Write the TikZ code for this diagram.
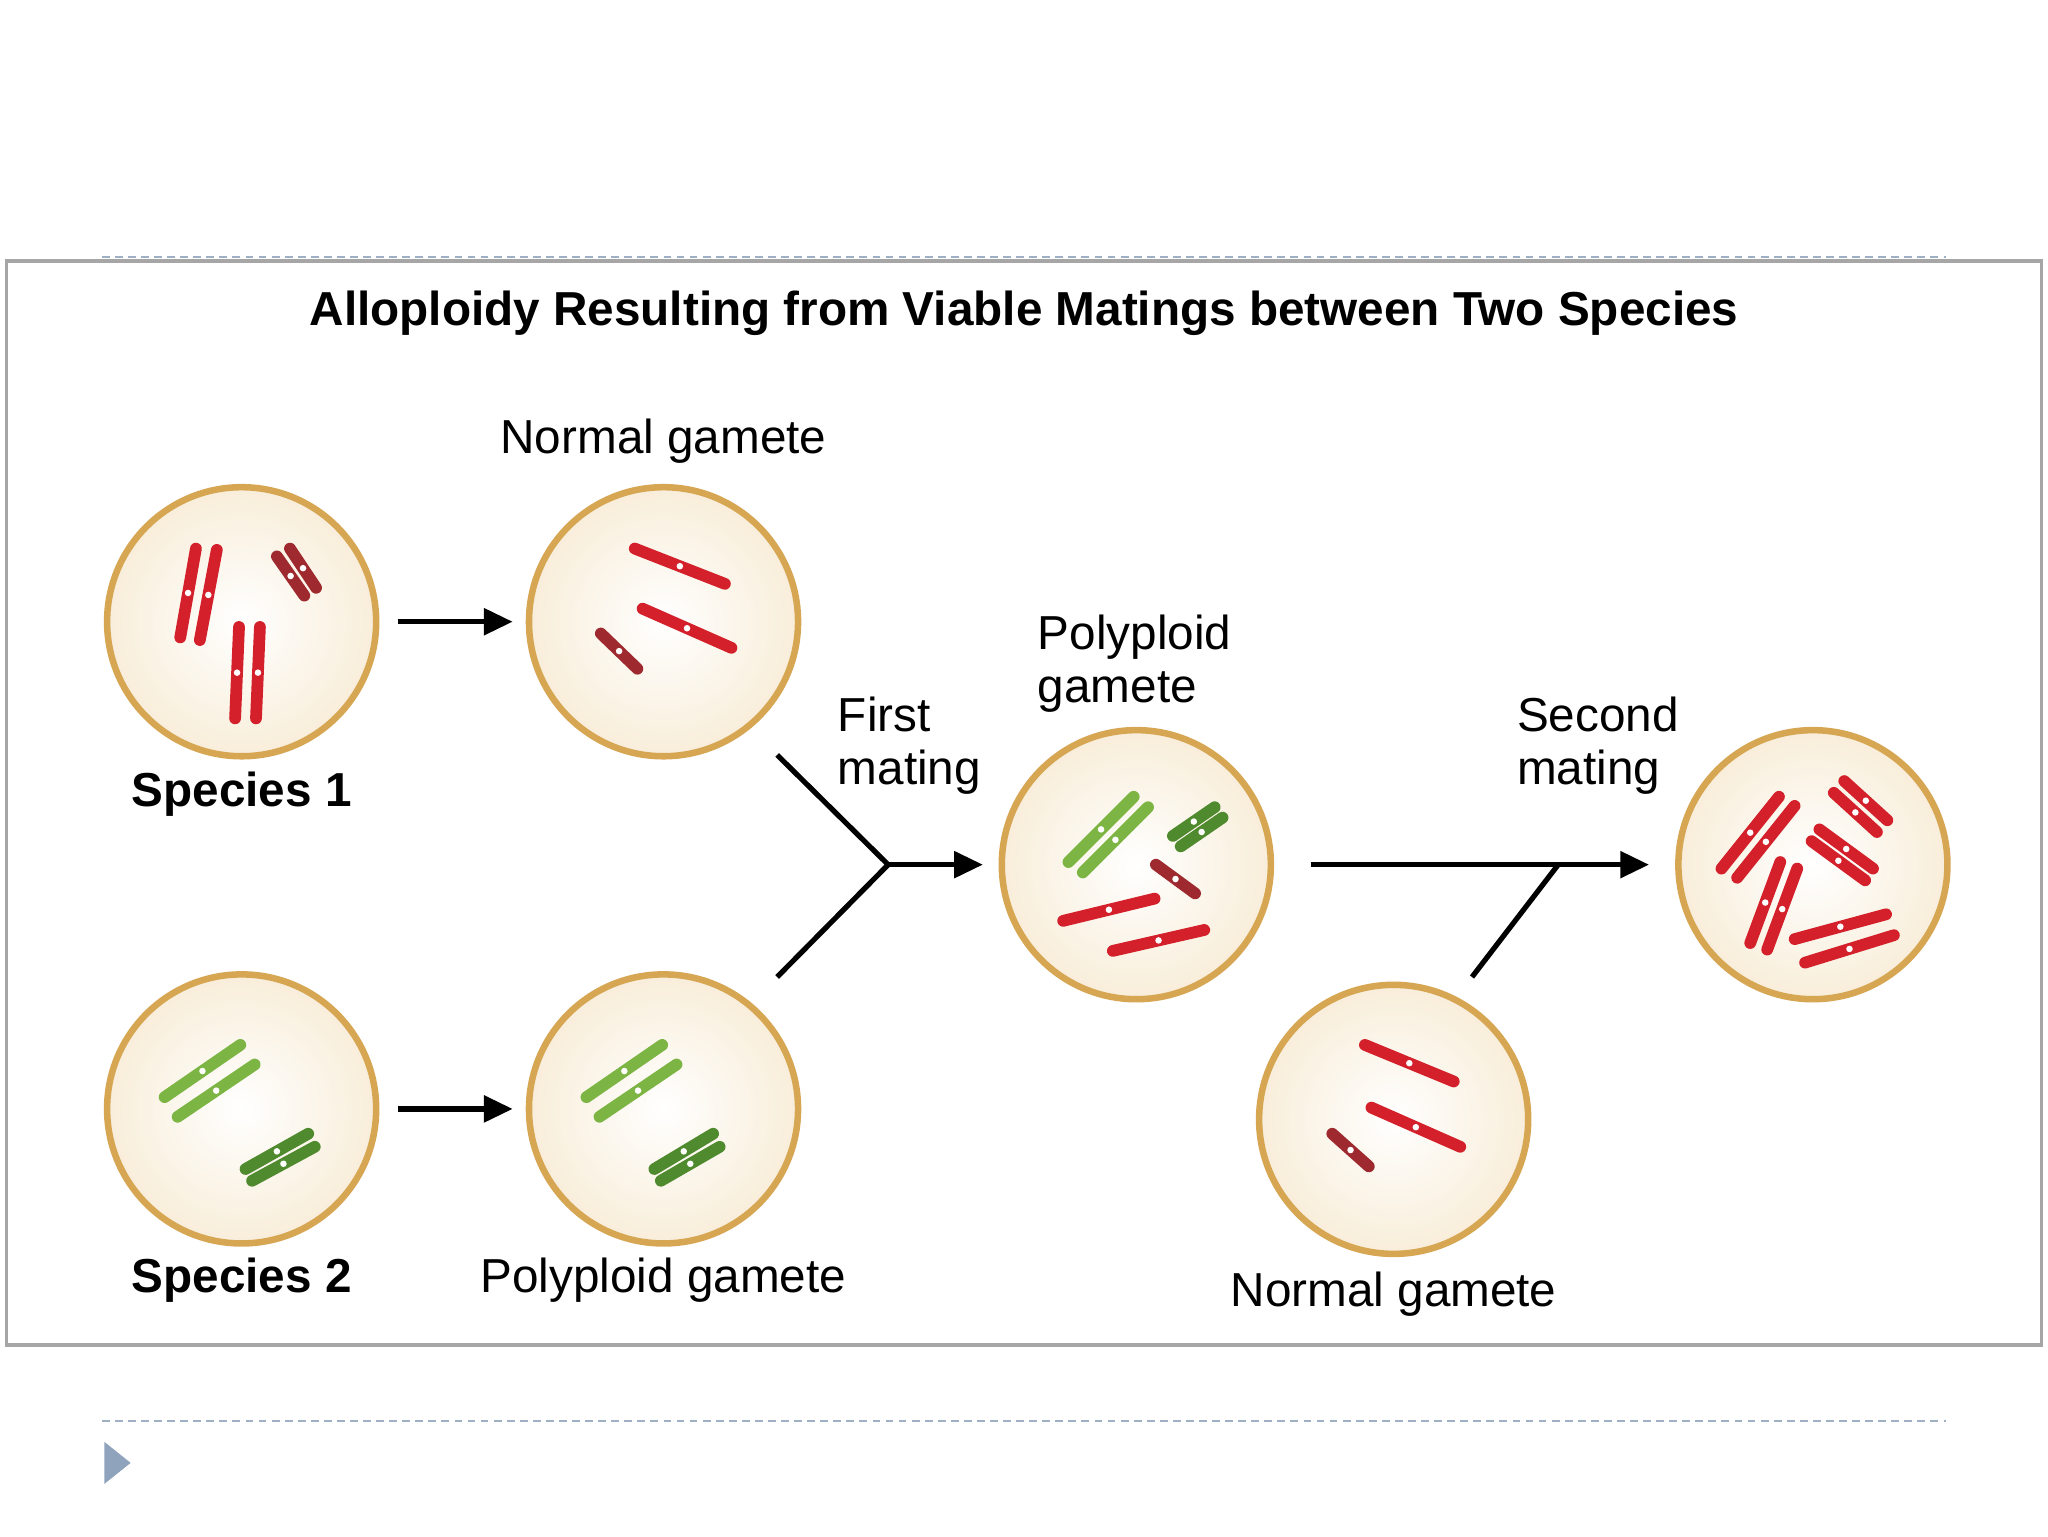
\documentclass[tikz,border=0pt]{standalone}
\usepackage{fontspec}
\setmainfont{Liberation Sans}
\usetikzlibrary{arrows.meta}
\definecolor{cred}{HTML}{D3202B}
\definecolor{cdred}{HTML}{9E2A2F}
\definecolor{cgreen}{HTML}{7DB544}
\definecolor{cdgreen}{HTML}{4F8A2E}
\definecolor{ctan}{HTML}{D6A653}
\definecolor{ccream}{HTML}{FBF1DC}
\definecolor{cdash}{HTML}{9FB0C4}
\definecolor{ctri}{HTML}{8FA3BD}
\tikzset{
  cell/.style={circle,draw=ctan,line width=5pt,inner color=white,outer color=ccream!80!ctan!60,minimum size=206pt},
  lbl/.style={font=\fontsize{36.5}{41}\selectfont,align=left},
  blbl/.style={font=\fontsize{36.5}{41}\selectfont\bfseries},
  arr/.style={line width=4pt,-{Triangle[length=22pt,width=20pt]}},
  ln/.style={line width=4pt},
  chr/.style={line width=9pt,line cap=round},
}
\newcommand{\chrom}[5]{\draw[chr,#5] (#1,#2) -- (#3,#4);
  \fill[white] ({(#1+#3)/2},{(#2+#4)/2}) circle (2.5pt);}
\begin{document}
\begin{tikzpicture}[x=1pt,y=-1pt]
\useasboundingbox (0,0) rectangle (1568,1176);
\fill[white] (0,0) rectangle (1568,1176);
\draw[cdash,line width=1.5pt,dash pattern=on 6pt off 4pt] (78,197) -- (1490,197);
\draw[cdash,line width=1.5pt,dash pattern=on 6pt off 4pt] (78,1088) -- (1490,1088);
\draw[gray!70,line width=3pt] (5,200) rectangle (1563,1030);
\fill[ctri] (80,1104) -- (100,1120) -- (80,1136) -- cycle;
\node[font=\fontsize{36.5}{42}\selectfont\bfseries] (title) at (784,240) {Alloploidy Resulting from Viable Matings between Two Species};
% cells
\node[cell] (s1) at (185,476) {};
\node[cell] (g1) at (508,476) {};
\node[cell] (s2) at (185,849) {};
\node[cell] (g2) at (508,849) {};
\node[cell] (pg) at (870,662) {};
\node[cell] (ng) at (1067,857) {};
\node[cell] (fz) at (1388,662) {};
% labels
\node[lbl] (l1) at (508,338) {Normal gamete};
\node[blbl] (l2) at (185,608) {Species 1};
\node[blbl] (l3) at (185,980) {Species 2};
\node[lbl] (l4) at (508,980) {Polyploid gamete};
\node[lbl,anchor=west] (l5) at (638,571) {First\\mating};
\node[lbl,anchor=west] (l6) at (791,508) {Polyploid\\gamete};
\node[lbl,anchor=west] (l7) at (1158,571) {Second\\mating};
\node[lbl] (l8) at (1067,991) {Normal gamete};
% connectors
\coordinate (j1) at (680,662);
\coordinate (a1) at (595,578);
\coordinate (a2) at (595,748);
\coordinate (j2) at (1193,662);
\coordinate (b1) at (1127,748);
\draw[arr] (s1.east)++(14,0) -- ([xshift=-10pt]g1.west);
\draw[arr] (s2.east)++(14,0) -- ([xshift=-10pt]g2.west);
\draw[ln] (a1) -- (j1) -- (a2);
\draw[arr] (j1) -- ([xshift=-12pt]pg.west);
\draw[arr] ([xshift=28pt]pg.east) -- ([xshift=-20pt]fz.west);
\draw[ln] (b1) -- (j2);
% species 1
\chrom{150}{420}{138}{488}{cred}\chrom{166}{421}{153}{490}{cred}
\chrom{212}{426}{233}{456}{cdred}\chrom{222}{420}{242}{450}{cdred}
\chrom{183}{480}{180}{550}{cred}\chrom{199}{480}{196}{550}{cred}
% normal gamete 1
\chrom{486}{420}{555}{447}{cred}
\chrom{492}{466}{560}{496}{cred}
\chrom{460}{485}{488}{512}{cdred}
% species 2
\chrom{126}{840}{184}{800}{cgreen}\chrom{136}{855}{195}{815}{cgreen}
\chrom{188}{895}{236}{868}{cdgreen}\chrom{193}{904}{241}{878}{cdgreen}
% polyploid gamete
\chrom{449}{840}{507}{800}{cgreen}\chrom{459}{855}{518}{815}{cgreen}
\chrom{501}{895}{546}{868}{cdgreen}\chrom{506}{904}{551}{878}{cdgreen}
% polyploid middle
\chrom{818}{660}{868}{610}{cgreen}\chrom{829}{668}{879}{618}{cgreen}
\chrom{898}{640}{930}{618}{cdgreen}\chrom{904}{648}{936}{626}{cdgreen}
\chrom{885}{662}{915}{684}{cdred}
\chrom{814}{705}{884}{688}{cred}
\chrom{852}{728}{922}{712}{cred}
% normal gamete 2
\chrom{1045}{800}{1113}{828}{cred}
\chrom{1050}{848}{1118}{878}{cred}
\chrom{1020}{868}{1048}{893}{cdred}
% final
\chrom{1318}{665}{1362}{610}{cred}\chrom{1330}{672}{1374}{617}{cred}
\chrom{1412}{598}{1445}{628}{cred}\chrom{1404}{607}{1437}{637}{cred}
\chrom{1393}{635}{1434}{665}{cred}\chrom{1387}{644}{1428}{674}{cred}
\chrom{1340}{722}{1363}{660}{cred}\chrom{1353}{727}{1376}{665}{cred}
\chrom{1374}{719}{1444}{700}{cred}\chrom{1382}{737}{1450}{716}{cred}
\end{tikzpicture}
\end{document}
